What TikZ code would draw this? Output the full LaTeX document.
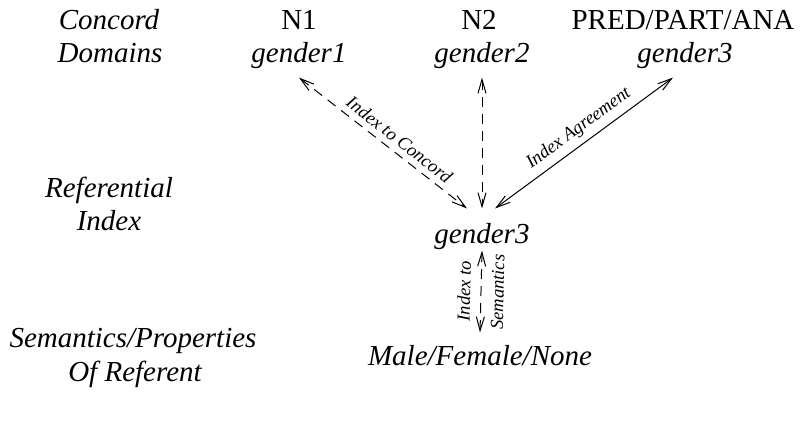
\documentclass[tikz,border=0pt]{standalone}
\usepackage{fontspec}
\setmainfont{Liberation Serif}
\usetikzlibrary{arrows.meta}

\begin{document}
\begin{tikzpicture}[
    x=0.5pt, y=-0.5pt,
    level/.style={
        anchor=base,
        inner sep=4pt,
        font=\fontsize{14.5}{17}\selectfont\itshape   % italic level text
    },
    domain_name/.style={
        level,
        font=\fontsize{14.5}{17}\selectfont           % upright domain names
    },
    link/.style={
        {Straight Barb[length=7pt,width=4pt]}-{Straight Barb[length=7pt,width=4pt]},
        line width=0.5pt
    },
    dashed_link/.style={
        link,
        dash pattern=on 5pt off 3.5pt
    },
    link_label/.style={
        sloped,
        inner sep=3pt,
        font=\fontsize{9.2}{11}\selectfont\itshape
    }
]

    % --- 0. Frame ---
    \useasboundingbox (0,0) rectangle (801,421);

    % --- 1. Row captions (left column) ---
    \node[level] (concord) at (109,30) {Concord};
    \node[level] (domains) at (110,63) {Domains};
    \node[level] (referential) at (109,198) {Referential};
    \node[level] (index) at (109,231) {Index};
    \node[level] (semantics) at (133,348) {Semantics/Properties};
    \node[level] (referent) at (135,381) {Of Referent};

    % --- 2. Concord domains ---
    \node[domain_name] (n1) at (299,30) {N1};
    \node[level] (gender1) at (299,63) {gender1};
    \node[domain_name] (n2) at (479,30) {N2};
    \node[level] (gender2) at (482,63) {gender2};
    \node[domain_name] (pred) at (683,30) {PRED/PART/ANA};
    \node[level] (gender3top) at (685,63) {gender3};

    % --- 3. Index and semantics ---
    \node[level] (gender3) at (482,244) {gender3};
    \node[level] (sex) at (480,365) {Male/Female/None};

    % --- 4. Links ---
    \draw[dashed_link] (gender1.south) -- node[link_label, above, pos=0.55] {Index to Concord} ([xshift=-7.5pt, yshift=3.5pt]gender3.north);
    \draw[dashed_link] (gender2.south) -- ([yshift=3.5pt]gender3.north);
    \draw[link] ([xshift=6.5pt, yshift=3.5pt]gender3.north) -- node[link_label, above, pos=0.52] {Index Agreement} ([xshift=-6pt]gender3top.south);

    % Index to semantics, labels on both sides
    \draw[dashed_link] ([yshift=2pt]sex.north) -- ([yshift=4pt]gender3.south)
        node[link_label, above, midway, inner sep=5pt] {Index to}
        node[link_label, below, midway, inner sep=5pt] {Semantics};

\end{tikzpicture}
\end{document}
